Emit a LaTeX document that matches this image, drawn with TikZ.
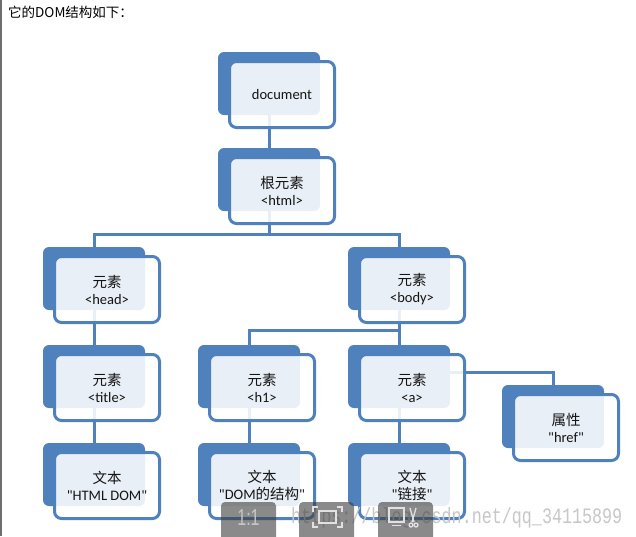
\documentclass[tikz,border=0pt]{standalone}
\usepackage{fontspec}
\usepackage{graphicx}
\setmainfont{Carlito}[Ligatures=TeXOff]
\newfontfamily\cjk{Noto Sans CJK SC}
\newfontfamily\wmfont{Liberation Mono}
\newfontfamily\btnfont{Liberation Sans}
\usetikzlibrary{calc}
\pgfdeclarelayer{background}
\pgfsetlayers{background,main}
\definecolor{smblue}{RGB}{79,129,189}
\definecolor{txt}{RGB}{20,20,20}
\definecolor{edgegray}{RGB}{110,110,110}
\definecolor{btngray}{RGB}{60,60,60}
\definecolor{iconlight}{RGB}{225,225,225}
\tikzset{
  backbox/.style={rectangle, rounded corners=6pt, fill=smblue, minimum width=102pt,
    minimum height=63pt, inner sep=0pt, outer sep=0pt, anchor=north west},
  frontbox/.style={rectangle, rounded corners=7pt, draw=smblue, line width=3pt,
    fill=white, fill opacity=0.88, draw opacity=1, text opacity=1,
    minimum width=105pt, minimum height=66pt, inner sep=0pt, outer sep=0pt,
    anchor=north west, align=center, text=txt,
    font=\fontsize{14.5}{17}\selectfont},
  link/.style={draw=smblue, line width=3pt},
  btn/.style={fill=btngray, fill opacity=0.6, rounded corners=4pt},
  icon/.style={draw=iconlight, line width=1.3pt},
}
\newcommand\dombox[4]{%
  \node[backbox] (#1) at (#2,#3) {};
  \node[frontbox] (#1f) at ([xshift=11.5pt,yshift=-9.5pt]#1.north west) {#4};
}
\begin{document}
\begin{tikzpicture}[x=1pt,y=-1pt]
\useasboundingbox (0,0) rectangle (636,536);
\clip (0,0) rectangle (636,536);

% boxes
\dombox{doc}{218}{52}{document}
\dombox{root}{218}{148}{{\cjk 根元素}\\<html>}
\dombox{head}{43}{247}{{\cjk 元素}\\<head>}
\dombox{body}{348}{247}{{\cjk 元素}\\<body>}
\dombox{title}{43}{345}{{\cjk 元素}\\<title>}
\dombox{hone}{198}{345}{{\cjk 元素}\\<h1>}
\dombox{a}{348}{345}{{\cjk 元素}\\<a>}
\dombox{href}{502}{385}{{\cjk 属性}\\"href"}
\dombox{tone}{43}{443}{{\cjk 文本}\\"HTML DOM"}
\dombox{ttwo}{198}{443}{{\cjk 文本}\\"DOM{\cjk 的结构}"}
\dombox{tthree}{348}{443}{{\cjk 文本}\\"{\cjk 链接}"}

% connectors (behind the boxes)
\begin{pgfonlayer}{background}
\fill[white] (0,0) rectangle (636,536);
\coordinate (busA) at (0,234);
\coordinate (busB) at (0,330);
\coordinate (busC) at (0,372);
\draw[link] (doc.center) -- (root.center);
\draw[link] (root.center) -- (root.center |- busA) -| (head.center);
\draw[link] (root.center |- busA) -| (body.center);
\draw[link] (head.center) -- (title.center) -- (tone.center);
\draw[link] (body.center) -- (a.center) -- (tthree.center);
\draw[link] (body.center |- busB) -| (hone.center);
\draw[link] (hone.center) -- (ttwo.center);
\draw[link] (a.center |- busC) -| (href.center);
\end{pgfonlayer}

% title and page edge
\node[anchor=west, inner sep=0pt, font=\cjk\fontsize{13.5}{13.5}\selectfont, text=black] (heading) at (8,12) {它的DOM结构如下：};
\draw[line width=1.5pt, edgegray] (0.75,0) -- (0.75,536);

% watermark
\node[anchor=base west, inner sep=0pt, text=black!22] (wm) at (291,523)
  {\scalebox{0.76}[1]{\wmfont\fontsize{22}{22}\selectfont https://blog.csdn.net/qq\_34115899}};

% viewer buttons
\fill[btn] (221,502) rectangle (276,546);
\fill[btn] (299,502) rectangle (354,546);
\fill[btn] (378,502) rectangle (433,546);
\node[inner sep=0pt, text=black!22] (oneone) at (248.5,517.5)
  {\scalebox{0.8}[1.15]{\btnfont\fontsize{20}{20}\selectfont 1:1}};
% fit icon
\draw[icon] (313,512) -- (313,507) -- (318,507);
\draw[icon] (337,507) -- (342,507) -- (342,512);
\draw[icon] (342,522) -- (342,527) -- (337,527);
\draw[icon] (318,527) -- (313,527) -- (313,522);
\draw[icon] (319,511) rectangle (336,523);
% crop icon
\draw[icon] (389,508) rectangle (404,522);
\draw[icon] (392,525.5) -- (401,525.5);
\draw[icon] (410,508) -- (414,522);
\draw[icon] (416,508) -- (412,522);
\draw[icon] (411,525) circle (2pt);
\draw[icon] (416,525) circle (2pt);
\end{tikzpicture}
\end{document}
